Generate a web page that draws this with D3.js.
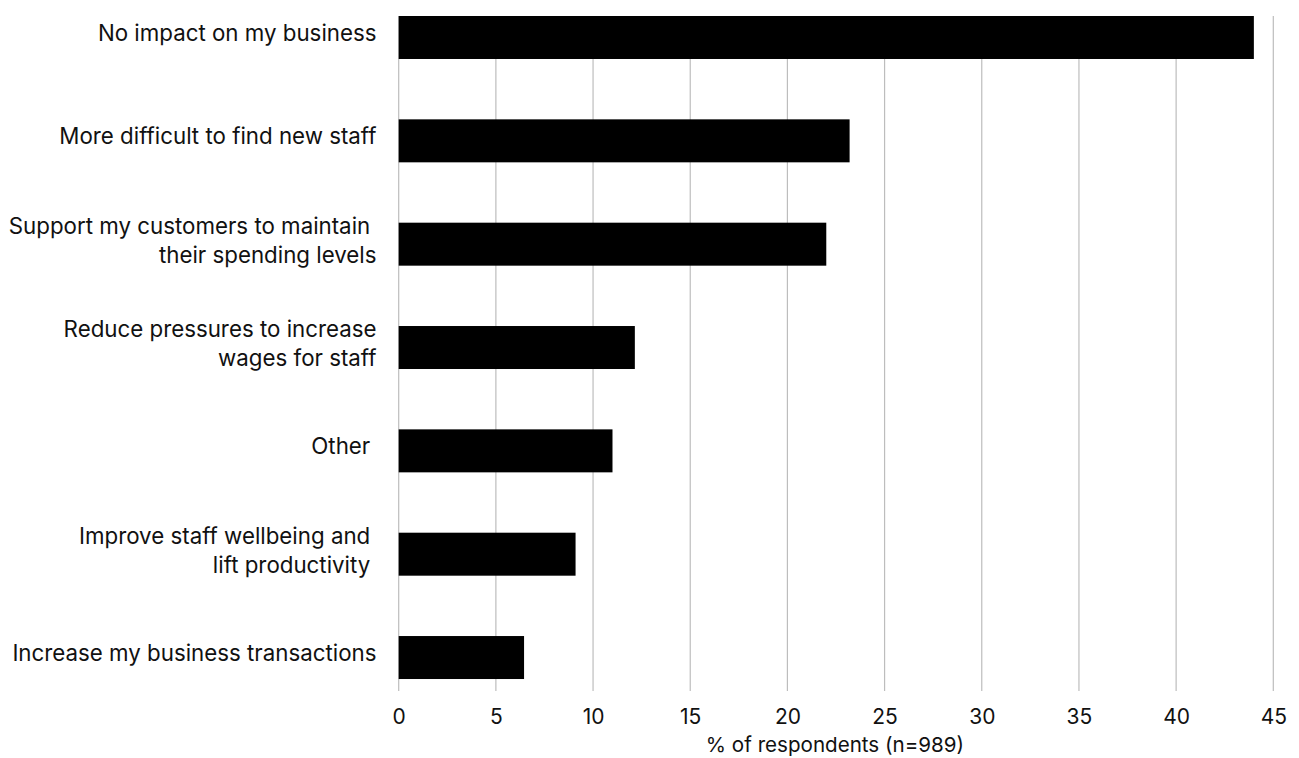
<!DOCTYPE html>
<html>
<head>
<meta charset="utf-8">
<script src="https://cdn.jsdelivr.net/npm/d3@7"></script>
<style>
  html, body { margin: 0; padding: 0; background: #fff; }
  svg { display: block; }
  text { font-family: Inter, "Liberation Sans", sans-serif; fill: #111; }
</style>
</head>
<body>
<svg id="chart" width="1299" height="758"></svg>
<script>
// Survey responses, top to bottom; "\n" splits a category label over two lines
const categories = [
  "No impact on my business",
  "More difficult to find new staff",
  "Support my customers to maintain \ntheir spending levels",
  "Reduce pressures to increase\nwages for staff",
  "Other ",
  "Improve staff wellbeing and \nlift productivity ",
  "Increase my business transactions"
];
const values = [44.0, 23.2, 22.0, 12.15, 11.0, 9.1, 6.45];
const tickValues = [0, 5, 10, 15, 20, 25, 30, 35, 40, 45];
const axisTitle = "% of respondents (n=989)";

const svg = d3.select("#chart");
const plot = { left: 398.7, right: 1273.3, gridTop: 16, gridBottom: 691 };

const x = d3.scaleLinear().domain([0, 45]).range([plot.left, plot.right]);
const y = d3.scaleBand()
  .domain(categories)
  .range([-14.17, 709.2])
  .paddingInner(0.584)
  .paddingOuter(0.292);

// vertical gridlines
svg.append("g")
  .selectAll("line")
  .data(tickValues)
  .join("line")
  .attr("x1", d => x(d)).attr("x2", d => x(d))
  .attr("y1", plot.gridTop).attr("y2", plot.gridBottom)
  .attr("stroke", "#bdbdbd")
  .attr("stroke-width", 1.2);

// bars
svg.append("g")
  .selectAll("rect")
  .data(values)
  .join("rect")
  .attr("x", x(0))
  .attr("y", (d, i) => y(categories[i]))
  .attr("width", d => x(d) - x(0))
  .attr("height", y.bandwidth())
  .attr("fill", "#000");

// x axis tick labels
const xAxis = d3.axisBottom(x).tickValues(tickValues).tickSize(0).tickPadding(0);
const gx = svg.append("g").attr("transform", `translate(0,${plot.gridBottom})`).call(xAxis);
gx.select(".domain").remove();
gx.selectAll("text")
  .attr("dy", null)
  .attr("y", 32.5)
  .style("font-size", "21px")
  .style("font-family", "Inter, 'Liberation Sans', sans-serif")
  .attr("fill", "#111");

// axis title
svg.append("text")
  .attr("x", x(22.5) - 1)
  .attr("y", 752)
  .attr("text-anchor", "middle")
  .style("font-size", "20.6px")
  .text(axisTitle);

// category labels
const labels = svg.append("g");
categories.forEach((c, i) => {
  const lines = c.split("\n");
  const cy = y(c) + y.bandwidth() / 2;
  const t = labels.append("text")
    .attr("text-anchor", "end")
    .attr("xml:space", "preserve")
    .style("white-space", "pre")
    .style("font-size", "22.3px");
  const first = lines.length === 1 ? cy + 3.5 : cy - 10.5;
  lines.forEach((ln, k) => {
    t.append("tspan")
      .attr("x", 376.5)
      .attr("y", first + k * 29)
      .text(ln);
  });
});
</script>
</body>
</html>
